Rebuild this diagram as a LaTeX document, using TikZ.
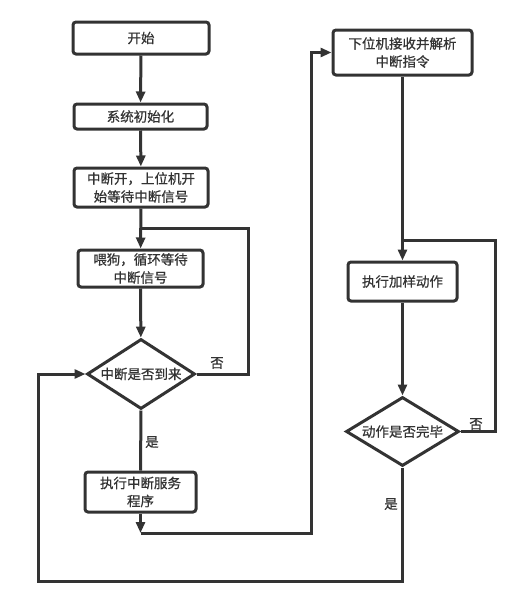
\documentclass[tikz,border=0pt]{standalone}
\usepackage{fontspec}
\setmainfont{Noto Sans CJK SC}[FakeBold=0.6]
\usetikzlibrary{shapes.geometric,arrows.meta}
\definecolor{ink}{HTML}{333333}
\tikzset{
  every node/.style={font=\fontsize{13.5}{18}\selectfont, text=ink},
  proc/.style={draw=ink, line width=3pt, rounded corners=3pt, fill=white,
    align=center, inner sep=0pt},
  decision/.style={draw=ink, line width=3pt, diamond, fill=white,
    inner sep=0pt, align=center},
  flow/.style={draw=ink, line width=3pt},
  arr/.style={flow, -{Triangle[length=11pt,width=9pt]}},
  lbl/.style={inner sep=0pt}
}
\begin{document}
\begin{tikzpicture}[x=1pt,y=-1pt]
\useasboundingbox (0,0) rectangle (516,603);

% left column
\node[proc, minimum width=136pt, minimum height=32pt] (start) at (141,38) {开始};
\node[proc, minimum width=133pt, minimum height=25pt] (init) at (140.5,116.5) {系统初始化};
\node[proc, minimum width=134pt, minimum height=39pt] (intr) at (141,187.5) {中断开，上位机开\\始等待中断信号};
\node[proc, minimum width=125pt, minimum height=37pt] (feed) at (140.5,268.5) {喂狗，循环等待\\中断信号};
\node[decision, aspect=1.54, minimum width=108pt, minimum height=70pt] (dec1) at (141,374) {中断是否到来};
\node[proc, minimum width=111pt, minimum height=40pt] (isr) at (140.5,492) {执行中断服务\\程序};

% right column
\node[proc, minimum width=139pt, minimum height=45pt] (recv) at (402.5,52.5) {下位机接收并解析\\中断指令};
\node[proc, minimum width=109pt, minimum height=39pt] (act) at (402.5,281.5) {执行加样动作};
\node[decision, aspect=1.64, minimum width=113pt, minimum height=69pt] (dec2) at (402.5,431.5) {动作是否完毕};

% routing points
\coordinate (j1) at (141,228);
\coordinate (r1) at (248,228);
\coordinate (c1) at (140.5,533);
\coordinate (c2) at (311,52.5);
\coordinate (j2) at (402.5,240);
\coordinate (r2) at (495,240);
\coordinate (b1) at (402.5,581);
\coordinate (l1) at (38,374);

% connectors
\draw[arr] (start) -- (init);
\draw[arr] (init) -- (intr);
\draw[arr] (intr) -- (feed);
\draw[arr] (feed) -- (dec1);
\draw[flow] (dec1.east) -| (r1) -- (j1);
\draw[flow] (dec1.south) -- (isr.north);
\draw[arr] (isr.south) -- (c1);
\draw[arr] (c1) -| (c2) -- (recv.west);
\draw[arr] (recv) -- (act);
\draw[arr] (act) -- (dec2);
\draw[flow] (dec2.east) -| (r2) -- (j2);
\draw[arr] (dec2.south) -- (b1) -| (l1) -- (dec1.west);

% branch labels
\node[lbl] (no1) at (217,363) {否};
\node[lbl] (yes1) at (152,442) {是};
\node[lbl] (no2) at (476,424) {否};
\node[lbl] (yes2) at (391,504) {是};
\end{tikzpicture}
\end{document}
